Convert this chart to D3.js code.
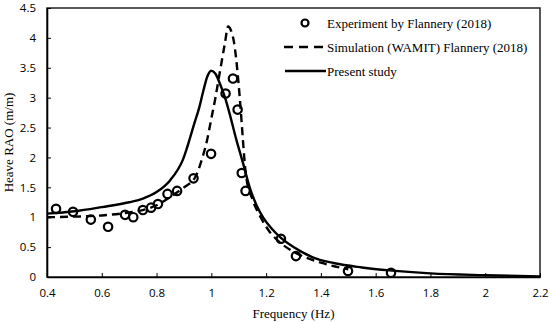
<!DOCTYPE html>
<html><head><meta charset="utf-8">
<script src="https://cdn.jsdelivr.net/npm/d3@7"></script>
<style>body{margin:0;background:#fff}svg{display:block}</style>
</head><body>
<svg id="c" width="550" height="322"></svg>
<script>
const xTicks = [0.4,0.6,0.8,1,1.2,1.4,1.6,1.8,2,2.2];
const yTicks = [0,0.5,1,1.5,2,2.5,3,3.5,4,4.5];
const expFreq = [0.433,0.495,0.56,0.623,0.685,0.715,0.75,0.78,0.805,0.84,0.875,0.935,0.999,1.052,1.079,1.096,1.111,1.125,1.254,1.309,1.499,1.656];
const expRAO  = [1.14,1.09,0.96,0.84,1.04,1.0,1.12,1.16,1.22,1.39,1.44,1.65,2.06,3.07,3.32,2.80,1.74,1.44,0.64,0.35,0.10,0.07];
const simFreq = [0.4,0.5,0.6,0.7,0.75,0.8,0.85,0.9,0.94,0.965,0.985,1.0,1.015,1.03,1.05,1.061,1.072,1.083,1.097,1.11,1.116,1.127,1.15,1.18,1.214,1.25,1.31,1.4,1.5];
const simRAO  = [1.0,1.01,1.03,1.08,1.12,1.2,1.34,1.5,1.66,1.96,2.3,2.65,3.0,3.4,3.92,4.19,4.12,3.92,3.36,2.63,2.25,1.68,1.3,1.0,0.75,0.58,0.40,0.24,0.13];
const preFreq = [0.4,0.5,0.6,0.7,0.75,0.8,0.85,0.896,0.94,0.955,0.97,0.985,1.0,1.015,1.03,1.05,1.064,1.09,1.116,1.14,1.165,1.19,1.22,1.25,1.3,1.37,1.45,1.55,1.65,1.8,2.0,2.2];
const preRAO  = [1.06,1.1,1.17,1.25,1.31,1.42,1.62,1.96,2.6,2.82,3.1,3.35,3.45,3.4,3.25,3.0,2.78,2.32,1.9,1.5,1.2,0.99,0.81,0.67,0.5,0.33,0.23,0.16,0.11,0.06,0.03,0.01];
const legendLabels = ["Experiment by Flannery (2018)","Simulation (WAMIT) Flannery (2018)","Present study"];

const svg = d3.select("#c");
const L=47,R=540,T=8,B=277;
const x = d3.scaleLinear().domain([0.4,2.2]).range([L,R]);
const y = d3.scaleLinear().domain([0,4.5]).range([B,T]);

// frame
svg.append("rect").attr("x",L).attr("y",T).attr("width",R-L).attr("height",B-T)
  .attr("fill","none").attr("stroke","#222").attr("stroke-width",1.5);

const tickFont = "'Open Sans', 'Liberation Sans', sans-serif";
const xa = svg.append("g").attr("transform",`translate(0,${B})`)
  .call(d3.axisBottom(x).tickValues(xTicks).tickSizeInner(-4).tickSizeOuter(0).tickPadding(12).tickFormat(d3.format("")));
xa.select(".domain").attr("stroke","#000").attr("stroke-width",1.6);
xa.selectAll(".tick line").attr("stroke","#000").attr("stroke-width",1);
xa.selectAll("text").attr("font-family",tickFont).attr("font-size",11.5).attr("fill","#000");

const ya = svg.append("g").attr("transform",`translate(${L},0)`)
  .call(d3.axisLeft(y).tickValues(yTicks).tickSizeInner(-4).tickSizeOuter(0).tickPadding(11).tickFormat(d3.format("")));
ya.select(".domain").attr("stroke","#000").attr("stroke-width",1.6);
ya.selectAll(".tick line").attr("stroke","#000").attr("stroke-width",1);
ya.selectAll("text").attr("font-family",tickFont).attr("font-size",11.5).attr("fill","#000");

const serif = "'Liberation Serif','Times New Roman',serif";
svg.append("text").attr("x",293.5).attr("y",318).attr("text-anchor","middle")
  .attr("font-family",serif).attr("font-size",13).text("Frequency (Hz)");
svg.append("text").attr("transform","translate(12.5,142.5) rotate(-90)").attr("text-anchor","middle")
  .attr("font-family",serif).attr("font-size",13).text("Heave RAO (m/m)");

const line = d3.line().x(d=>x(d[0])).y(d=>y(d[1])).curve(d3.curveMonotoneX);
svg.append("path").datum(preFreq.map((f,i)=>[f,preRAO[i]])).attr("d",line)
  .attr("fill","none").attr("stroke","#000").attr("stroke-width",2.4);
svg.append("path").datum(simFreq.map((f,i)=>[f,simRAO[i]])).attr("d",line)
  .attr("fill","none").attr("stroke","#000").attr("stroke-width",2.4).attr("stroke-dasharray","8,5");
svg.append("g").selectAll("circle").data(expFreq.map((f,i)=>[f,expRAO[i]])).join("circle")
  .attr("cx",d=>x(d[0])).attr("cy",d=>y(d[1])).attr("r",4.2)
  .attr("fill","none").attr("stroke","#000").attr("stroke-width",2.2);

// legend
const lg = svg.append("g");
const rows=[23,47,71];
lg.append("circle").attr("cx",305).attr("cy",rows[0]).attr("r",3.5).attr("fill","none").attr("stroke","#000").attr("stroke-width",2.2);
lg.append("line").attr("x1",284).attr("x2",326).attr("y1",rows[1]).attr("y2",rows[1]).attr("stroke","#000").attr("stroke-width",2.4).attr("stroke-dasharray","9,6");
lg.append("line").attr("x1",285).attr("x2",326).attr("y1",rows[2]).attr("y2",rows[2]).attr("stroke","#000").attr("stroke-width",2.4);
legendLabels.forEach((t,i)=>{
  lg.append("text").attr("x",327).attr("y",rows[i]+4.5).attr("font-family",serif).attr("font-size",13).text(t);
});
</script>
</body></html>
